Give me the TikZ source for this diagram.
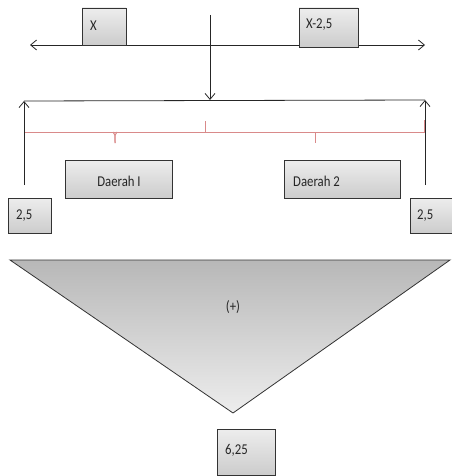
\documentclass[tikz,border=0pt]{standalone}
\usepackage{fontspec}
\setmainfont{Carlito}[FakeStretch=0.85]
\usetikzlibrary{arrows.meta,shadows}
\definecolor{brace}{HTML}{D98A8A}
\tikzset{
  valbox/.style={draw=black!80, line width=0.7pt, top color=white!93!black, bottom color=black!20,
    drop shadow={shadow xshift=1pt, shadow yshift=-1pt, opacity=0.25}, inner sep=0pt},
  lbl/.style={font=\fontsize{15}{17}\selectfont, anchor=west, inner sep=0pt, text=black!85},
  arr/.style={draw=black!85, line width=0.8pt, -{Straight Barb[length=6pt,width=10pt]}},
  plain/.style={draw=black!85, line width=0.8pt},
  red/.style={draw=brace, line width=1pt}
}
\begin{document}
\begin{tikzpicture}[x=1pt,y=-1pt]
\useasboundingbox (0,0) rectangle (451,476);
% top number line
\coordinate (tl) at (30,45);
\coordinate (tr) at (425,45);
\draw[arr, {Straight Barb[length=6pt,width=10pt]}-{Straight Barb[length=6pt,width=10pt]}] (tl) -- (tr);
\path[valbox] (82,8) rectangle (126,45);
\node[lbl] (X) at (90,26) {X};
\path[valbox] (299,8) rectangle (358,47);
\node[lbl] (X2) at (306,25) {X-2,5};
% central down arrow
\coordinate (ds) at (210,15);
\coordinate (de) at (210,100);
\draw[arr] (ds) -- (de);
% horizontal bracket line
\coordinate (hl) at (24,101);
\coordinate (hr) at (425,100);
\draw[plain] (hl) -- (hr);
% red brace
\coordinate (rl) at (24,132);
\coordinate (rr) at (424,132);
\draw[red] (24,120) -- (rl) -- (rr) -- (424,120);
\draw[red] (205,132) -- (205,121);
\draw[red] (113,132) .. controls (115,134) .. (115,143);
\draw[red] (117,132) .. controls (115,134) .. (115,143);
\draw[red] (315,132) -- (315,143);
% side arrows
\coordinate (la) at (24,185);
\coordinate (ra) at (425,185);
\draw[arr] (la) -- (hl);
\draw[arr] (ra) -- (hr);
% region boxes
\path[valbox] (65,160) rectangle (172,198);
\node[lbl, anchor=center] (d1) at (119,181) {Daerah I};
\path[valbox] (284,160) rectangle (400,198);
\node[lbl] (d2) at (293,181) {Daerah 2};
% 2,5 boxes
\path[valbox] (8,198) rectangle (51,233);
\node[lbl] (a1) at (16,216) {2,5};
\path[valbox] (410,198) rectangle (454,233);
\node[lbl] (a2) at (417,216) {2,5};
% triangle
\path[draw=black!80, line width=0.8pt, top color=black!28, bottom color=black!7]
  (10,260) -- (450,260) -- (233,413) -- cycle;
\node[lbl, anchor=center] (plus) at (233,307) {(+)};
% result box
\path[valbox] (217,429) rectangle (275,475);
\node[lbl] (res) at (225,450) {6,25};
\end{tikzpicture}
\end{document}
